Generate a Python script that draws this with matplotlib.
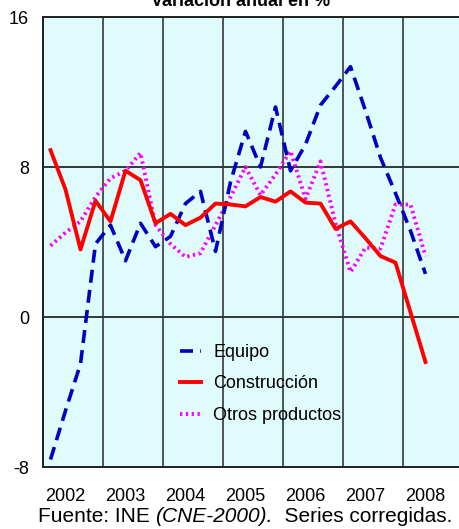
import matplotlib
matplotlib.use("Agg")
import matplotlib.pyplot as plt
import numpy as np

plt.rcParams['font.family'] = ['Liberation Sans', 'DejaVu Sans']

years = [2002, 2003, 2004, 2005, 2006, 2007, 2008]
yticks = [-8, 0, 8, 16]

equipo = [-7.6, -5.0, -2.5, 3.9, 4.9, 3.0, 5.0, 3.75, 4.3, 6.05, 6.7, 3.5, 7.2,
          9.9, 8.0, 11.2, 7.8, 9.2, 11.3, 12.3, 13.35, 11.0, 8.5, 6.6, 4.6, 2.3]
construccion = [8.9, 6.8, 3.6, 6.2, 5.1, 7.8, 7.3, 5.0, 5.5, 4.9, 5.3, 6.05, 6.0,
                5.9, 6.4, 6.15, 6.7, 6.1, 6.05, 4.7, 5.1, 4.2, 3.25, 2.9, 0.25, -2.4]
otros = [3.8, 4.5, 5.1, 6.4, 7.4, 7.8, 8.75, 4.9, 3.9, 3.2, 3.4, 4.9, 6.4,
         8.0, 6.5, 7.6, 8.85, 6.3, 8.3, 5.0, 2.4, 3.7, 3.65, 6.0, 6.0, 3.25]

W, H = 459, 529
fig = plt.figure(figsize=(W / 100, H / 100), dpi=100)
fig.patch.set_facecolor('white')

L, R, T, B = 43, 459, 17, 467
ax = fig.add_axes([L / W, (H - B) / H, (R - L) / W, (B - T) / H])
ax.set_facecolor('#e0fbfb')

n = len(equipo)
x = years[0] + (np.arange(n) + 0.5) / 4.0

ax.set_xlim(years[0], years[0] + (R - L) / 60.0)
ax.set_ylim(-8, 16)

for yr in years[1:]:
    ax.axvline(yr, color='#4a5656', lw=1.4, zorder=1)
for yv in [0, 8]:
    ax.axhline(yv, color='#303838', lw=1.4, zorder=1)

ax.plot(x, equipo, color='#0000c0', lw=2.6, linestyle=(0, (3.6, 2.0)),
        label='Equipo', zorder=3)
ax.plot(x, construccion, color='#ff0000', lw=2.8, label='Construcción', zorder=4)
ax.plot(x, otros, color='#ff00ff', lw=2.8, linestyle=(0, (0.6, 0.9)),
        dash_capstyle='butt', label='Otros productos', zorder=2)

ax.set_yticks(yticks)
ax.set_yticklabels([str(v) for v in yticks], fontsize=13)
ax.set_xticks([yr + 22 / 60 for yr in years])
ax.set_xticklabels([str(yr) for yr in years], fontsize=13)
ax.tick_params(axis='both', length=0)
ax.tick_params(axis='y', pad=10)
ax.tick_params(axis='x', pad=15)

for s in ['left', 'bottom', 'top']:
    ax.spines[s].set_color('#202020')
    ax.spines[s].set_linewidth(1.4)
ax.spines['right'].set_visible(False)

leg = ax.legend(loc='upper left', bbox_to_anchor=(180 / W, 1 - 344 / H),
                bbox_transform=fig.transFigure, frameon=False, fontsize=13,
                handlelength=1.15, handletextpad=0.7, labelspacing=0.8,
                borderpad=0, borderaxespad=0)

fig.text(241 / W, 1 - 6 / H, 'Variación anual en %', ha='center', va='baseline',
         fontsize=13, fontweight='bold')

# Caption with mixed styles
fig.canvas.draw()
renderer = fig.canvas.get_renderer()
parts = [('Fuente: INE ', 'normal'), ('(CNE-2000).', 'italic'), ('  Series corregidas.', 'normal')]
texts = []
for s, st in parts:
    t = fig.text(0, 0, s, fontsize=15, style=st, va='baseline', ha='left')
    texts.append(t)
widths = [t.get_window_extent(renderer).width for t in texts]
total = sum(widths)
x0 = 245 - total / 2
ybase = 1 - 522 / H
for t, w in zip(texts, widths):
    t.set_position((x0 / W, ybase))
    x0 += w

fig.savefig('out.png', dpi=100)
